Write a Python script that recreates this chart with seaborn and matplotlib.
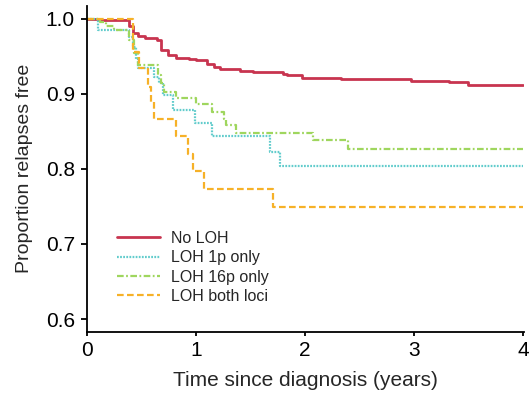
import matplotlib
matplotlib.use("Agg")
import matplotlib.pyplot as plt
import seaborn as sns
import pandas as pd

# ---- data ----
groups = ["No LOH", "LOH 1p only", "LOH 16p only", "LOH both loci"]

t_none = [0, 0.12, 0.39, 0.42, 0.47, 0.53, 0.64, 0.68, 0.74, 0.82, 0.94, 1.00,
          1.10, 1.17, 1.22, 1.40, 1.52, 1.80, 1.83, 1.97, 2.33, 2.97, 3.32, 3.49, 4.0]
s_none = [1.0, 0.999, 0.990, 0.981, 0.977, 0.975, 0.972, 0.958, 0.952, 0.948, 0.947, 0.945,
          0.940, 0.936, 0.933, 0.930, 0.929, 0.927, 0.925, 0.921, 0.920, 0.917, 0.916, 0.912, 0.912]

t_1p = [0, 0.10, 0.39, 0.42, 0.45, 0.47, 0.62, 0.66, 0.70, 0.79, 0.99, 1.15, 1.68, 1.77, 4.0]
s_1p = [1.0, 0.985, 0.976, 0.962, 0.946, 0.934, 0.923, 0.914, 0.898, 0.878, 0.861, 0.844, 0.823, 0.804, 0.804]

t_16p = [0, 0.12, 0.18, 0.25, 0.39, 0.43, 0.47, 0.65, 0.68, 0.71, 0.82, 1.00, 1.15,
         1.26, 1.28, 1.37, 2.07, 2.39, 4.0]
s_16p = [1.0, 0.996, 0.990, 0.985, 0.972, 0.955, 0.938, 0.925, 0.914, 0.903, 0.895, 0.887, 0.876,
         0.867, 0.858, 0.848, 0.838, 0.826, 0.826]

t_both = [0, 0.42, 0.48, 0.56, 0.59, 0.62, 0.82, 0.93, 0.97, 1.07, 1.71, 4.0]
s_both = [1.0, 0.956, 0.934, 0.909, 0.889, 0.866, 0.844, 0.820, 0.797, 0.773, 0.749, 0.749]

x_ticks = [0, 1, 2, 3, 4]
y_ticks = [0.6, 0.7, 0.8, 0.9, 1.0]
y_ticklabels = ["0.6", "0.7", "0.8", "0.9", "1.0"]

times = [t_none, t_1p, t_16p, t_both]
survs = [s_none, s_1p, s_16p, s_both]

colors = ["#c8344f", "#62cccc", "#9fd65e", "#f6b128"]
styles = ["-", (0, (0.8, 0.6)), (0, (3, 1.1, 0.8, 1.1)), (0, (3, 1.5))]
widths = [2.0, 1.6, 1.6, 1.6]

# ---- plot ----
sns.set_style("ticks")
plt.rcParams["font.family"] = ["Liberation Sans", "DejaVu Sans"]

fig = plt.figure(figsize=(5.31, 3.94), dpi=100)
ax = fig.add_axes([0.1633, 0.1586, 0.8236, 0.826])

for g, t, s, c, ls, lw in zip(groups, times, survs, colors, styles, widths):
    df = pd.DataFrame({"time": t, "surv": s})
    sns.lineplot(data=df, x="time", y="surv", ax=ax, color=c, linestyle=ls,
                 linewidth=lw, drawstyle="steps-post", estimator=None,
                 sort=False, label=g)

ax.set_xlim(0, 4.005)
ax.set_ylim(0.5834, 1.0169)
ax.set_xticks(x_ticks)
ax.set_yticks(y_ticks)
ax.set_yticklabels(y_ticklabels)
ax.set_xlabel("Time since diagnosis (years)", fontsize=15, labelpad=8)
ax.set_ylabel("Proportion relapses free", fontsize=14, labelpad=9)

for sp in ["top", "right"]:
    ax.spines[sp].set_visible(False)
for sp in ["left", "bottom"]:
    ax.spines[sp].set_color("black")
    ax.spines[sp].set_linewidth(1.3)

ax.tick_params(axis="y", length=4.5, width=1.3, pad=4, labelsize=15, colors="black")
ax.tick_params(axis="x", length=3, width=1.3, pad=4, labelsize=15, colors="black")

leg = ax.legend(loc="upper left", bbox_to_anchor=(0.069, 0.31), frameon=False,
                fontsize=11.5, handlelength=2.7, handletextpad=0.7,
                labelspacing=0.28, borderpad=0, borderaxespad=0)

fig.savefig("out.png", dpi=100)
